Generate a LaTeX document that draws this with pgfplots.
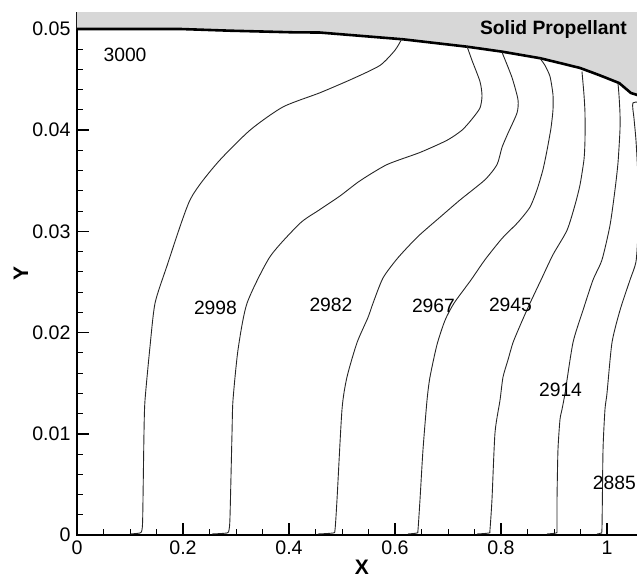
\documentclass[border=0pt]{standalone}
\usepackage{fontspec}
\setmainfont{Liberation Sans}
\usepackage{pgfplots}
\pgfplotsset{compat=1.18}
\definecolor{propgray}{RGB}{215,215,215}
\newcommand\lbl{\fontsize{19.3bp}{23bp}\selectfont}
\newcommand\tck{\fontsize{19.6bp}{23bp}\selectfont}
\newcommand\axl{\fontsize{21bp}{25bp}\selectfont\bfseries}

\begin{document}
\begin{tikzpicture}
\begin{axis}[
    at={(0,0)}, anchor=south west,
    scale only axis,
    width=570bp, height=522bp,
    xmin=0, xmax=1.0755,
    ymin=0, ymax=0.05158,
    scaled x ticks=false, scaled y ticks=false,
    xtick={0,0.2,0.4,0.6,0.8,1},
    xticklabels={0,0.2,0.4,0.6,0.8,1},
    ytick={0,0.01,0.02,0.03,0.04,0.05},
    yticklabels={0,0.01,0.02,0.03,0.04,0.05},
    minor x tick num=3,
    minor y tick num=4,
    xtick pos=bottom, ytick pos=left,
    tick align=inside,
    major tick length=12bp, minor tick length=6bp,
    major tick style={line width=1.6bp, black},
    minor tick style={line width=0.9bp, black},
    axis line style={line width=2bp},
    xticklabel style={font=\tck, yshift=-2bp},
    yticklabel style={font=\tck, xshift=-3bp},
    xlabel={X}, ylabel={Y},
    xlabel style={font=\axl, at={(axis description cs:0.5,0)}, anchor=center, yshift=-32.5bp},
    ylabel style={font=\axl, at={(axis description cs:-0.0982,0.5)}, anchor=center},
    contour/.style={black!85, line width=0.9bp, smooth, tension=0.4, mark=none},
]

% solid propellant region
\addplot[fill=propgray, draw=none] coordinates {
    (0,0.0500) (0.194,0.0500) (0.289,0.04983) (0.408,0.04967) (0.458,0.04965)
    (0.615,0.04898) (0.736,0.04825) (0.802,0.04776) (0.874,0.04711) (0.911,0.04664)
    (0.949,0.04615) (0.985,0.04545) (1.023,0.04466) (1.045,0.04368) (1.057,0.04348)
    (1.08,0.0432) (1.08,0.053) (0,0.053)
};
% burning surface
\addplot[black, line width=2.6bp, mark=none] coordinates {
    (0,0.0500) (0.194,0.0500) (0.289,0.04983) (0.408,0.04967) (0.458,0.04965)
    (0.615,0.04898) (0.736,0.04825) (0.802,0.04776) (0.874,0.04711) (0.911,0.04664)
    (0.949,0.04615) (0.985,0.04545) (1.023,0.04466) (1.045,0.04368) (1.057,0.04348)
    (1.08,0.0432)
};

% contours
\addplot[contour] coordinates {
    (0.100,0.0001) (0.119,0.0002) (0.1226,0.0005) (0.124,0.0018) (0.1264,0.0101)
    (0.1283,0.0133) (0.1377,0.0186) (0.1472,0.0229) (0.1692,0.0265) (0.2132,0.0331)
    (0.2636,0.0367) (0.3264,0.0400) (0.3887,0.0423) (0.4585,0.0437) (0.5208,0.0451)
    (0.5717,0.0464) (0.6000,0.0479) (0.6126,0.0490)
};
\addplot[contour] coordinates {
    (0.2547,0.0001) (0.2830,0.0002) (0.2868,0.0005) (0.2887,0.0018) (0.2925,0.0101)
    (0.2943,0.0133) (0.3038,0.0183) (0.3208,0.0229) (0.3642,0.0275) (0.4208,0.0308)
    (0.4566,0.0321) (0.4962,0.0335) (0.5340,0.0350) (0.5849,0.0366) (0.6472,0.0378)
    (0.6981,0.0390) (0.7264,0.0400) (0.7453,0.0411) (0.7604,0.0422) (0.7642,0.0434)
    (0.7604,0.0448) (0.7453,0.0469) (0.7358,0.0483)
};
\addplot[contour] coordinates {
    (0.4547,0.0001) (0.4830,0.0002) (0.4868,0.0005) (0.4906,0.0035) (0.5000,0.0124)
    (0.5094,0.0156) (0.5283,0.0190) (0.5491,0.0215) (0.5585,0.0229) (0.5774,0.0254)
    (0.6057,0.0274) (0.6434,0.0295) (0.6849,0.0314) (0.7226,0.0331) (0.7698,0.0351)
    (0.7925,0.0366) (0.8019,0.0383) (0.8132,0.0397) (0.8302,0.0417) (0.8321,0.0430)
    (0.8208,0.0452) (0.8019,0.0477)
};
\addplot[contour] coordinates {
    (0.6245,0.0001) (0.6415,0.0002) (0.6434,0.0005) (0.6472,0.0035) (0.6528,0.0084)
    (0.6604,0.0133) (0.6660,0.0156) (0.6792,0.0188) (0.6943,0.0212) (0.7113,0.0229)
    (0.7434,0.0252) (0.7698,0.0272) (0.8019,0.0293) (0.8321,0.0309) (0.8547,0.0324)
    (0.8679,0.0341) (0.8792,0.0361) (0.8868,0.0380) (0.8943,0.0402) (0.8981,0.0420)
    (0.8981,0.0435) (0.8925,0.0453) (0.8830,0.0464) (0.8736,0.0471)
};
\addplot[contour] coordinates {
    (0.7547,0.0001) (0.7774,0.0002) (0.7792,0.0005) (0.7830,0.0035) (0.7887,0.0101)
    (0.7981,0.0133) (0.8038,0.0156) (0.8132,0.0173) (0.8226,0.0190) (0.8377,0.0209)
    (0.8547,0.0229) (0.8755,0.0252) (0.8981,0.0277) (0.9245,0.0301) (0.9396,0.0326)
    (0.9491,0.0346) (0.9566,0.0371) (0.9585,0.0390) (0.9585,0.0417) (0.9566,0.0435)
    (0.9528,0.0458)
};
\addplot[contour] coordinates {
    (0.8868,0.0001) (0.9038,0.0002) (0.9057,0.0005) (0.9057,0.0035) (0.9075,0.0084)
    (0.9113,0.0114) (0.9151,0.0124) (0.9208,0.0140) (0.9358,0.0190) (0.9547,0.0222)
    (0.9736,0.0252) (0.9906,0.0272) (1.0057,0.0306) (1.0151,0.0341) (1.0208,0.0368)
    (1.0245,0.0400) (1.0245,0.0417) (1.0226,0.0435) (1.0208,0.0446)
};
\addplot[contour] coordinates {
    (0.9811,0.0001) (0.9887,0.0002) (0.9906,0.0008) (0.9925,0.0084) (0.9962,0.0124)
    (1.0000,0.0140) (1.0094,0.0190) (1.0245,0.0222) (1.0434,0.0252) (1.0547,0.0270)
    (1.0585,0.0301) (1.0585,0.0351) (1.0547,0.0390) (1.0509,0.0412) (1.0491,0.0427)
    (1.0717,0.0427)
};

% labels
\node[font=\lbl] at (axis cs:0.0906,0.04743) {3000};
\node[font=\lbl\bfseries] at (axis cs:0.899,0.0499) {Solid Propellant};
\node[font=\lbl] at (axis cs:0.2613,0.02243) {2998};
\node[font=\lbl] at (axis cs:0.4792,0.02278) {2982};
\node[font=\lbl] at (axis cs:0.6726,0.02268) {2967};
\node[font=\lbl] at (axis cs:0.8179,0.02278) {2945};
\node[font=\lbl] at (axis cs:0.9123,0.01438) {2914};
\node[font=\lbl] at (axis cs:1.0140,0.00519) {2885};
\end{axis}
\pgfresetboundingbox
\path[use as bounding box] (-77bp,-43bp) rectangle (560bp,535bp);
\end{tikzpicture}
\end{document}
